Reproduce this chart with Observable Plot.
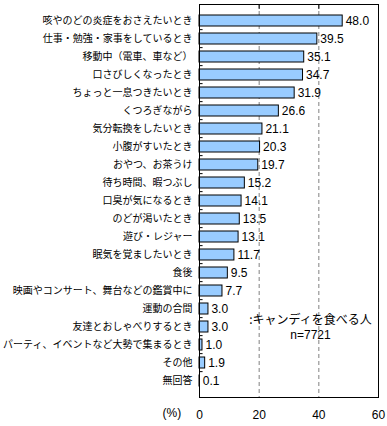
<!DOCTYPE html>
<html><head><meta charset="utf-8">
<script src="https://cdn.jsdelivr.net/npm/d3@7"></script>
<script src="https://cdn.jsdelivr.net/npm/@observablehq/plot@0.6"></script>
<style>body{margin:0;background:#fff}</style>
</head><body><div id="chart"></div>
<script>
const categories = [
  "咳やのどの炎症をおさえたいとき",
  "仕事・勉強・家事をしているとき",
  "移動中（電車、車など）",
  "口さびしくなったとき",
  "ちょっと一息つきたいとき",
  "くつろぎながら",
  "気分転換をしたいとき",
  "小腹がすいたとき",
  "おやつ、お茶うけ",
  "待ち時間、暇つぶし",
  "口臭が気になるとき",
  "のどが渇いたとき",
  "遊び・レジャー",
  "眠気を覚ましたいとき",
  "食後",
  "映画やコンサート、舞台などの鑑賞中に",
  "運動の合間",
  "友達とおしゃべりするとき",
  "パーティ、イベントなど大勢で集まるとき",
  "その他",
  "無回答"
];
const values = [48.0, 39.5, 35.1, 34.7, 31.9, 26.6, 21.1, 20.3, 19.7, 15.2, 14.1, 13.5, 13.1, 11.7, 9.5, 7.7, 3.0, 3.0, 1.0, 1.9, 0.1];
const xTicks = [0, 20, 40, 60];
const gridTicks = [20, 40];
const legendLines = [":キャンディを食べる人", "n=7721"];
const unitLabel = "(%)";

const data = categories.map((c, i) => ({category: c, value: values[i]}));
const jp = "'Noto Sans CJK JP', sans-serif";
const num = "'Liberation Sans', Arial, sans-serif";

const chart = Plot.plot({
  width: 387,
  height: 426,
  marginLeft: 199,
  marginRight: 9,
  marginTop: 4,
  marginBottom: 29,
  style: {fontFamily: jp, background: "#fff", color: "#000"},
  x: {domain: [0, 60], ticks: xTicks},
  y: {domain: categories, paddingInner: 0.4, paddingOuter: 0.2},
  marks: [
    Plot.ruleX(gridTicks, {stroke: "#808080", strokeDasharray: "4,3"}),
    Plot.barX(data, {y: "category", x: "value", fill: "#99CCFF", stroke: "#000", strokeWidth: 1}),
    Plot.text(data, {y: "category", x: "value", text: d => d.value.toFixed(1), textAnchor: "start", dx: 3, fontFamily: num, fontSize: 12, fill: "#000"}),
    Plot.ruleY(categories.slice(1), {y: d => d, x1: 0, x2: 1.2, dy: -9.36, stroke: "#000"}),
    Plot.axisY({tickSize: 0, tickPadding: 7, fontSize: 10, label: null, fontFamily: jp}),
    Plot.axisX({ticks: xTicks, tickSize: 0, tickPadding: 13, fontSize: 12, label: null, fontFamily: num}),
    Plot.axisX({anchor: "top", ticks: gridTicks, tickSize: -4, tickFormat: () => "", label: null}),
    Plot.text([unitLabel], {frameAnchor: "bottom-left", textAnchor: "start", dx: -37, dy: 19, fontSize: 12, fontFamily: num, fill: "#000"}),
    Plot.text([legendLines[0]], {x: 37.2, y: () => categories[17], dy: -7, fontSize: 12, fontFamily: jp, fill: "#000"}),
    Plot.text([legendLines[1]], {x: 37.2, y: () => categories[17], dy: 8, fontSize: 12, fontFamily: num, fill: "#000"}),
    Plot.frame({stroke: "#000"})
  ]
});
document.getElementById("chart").appendChild(chart);
</script>
</body></html>
